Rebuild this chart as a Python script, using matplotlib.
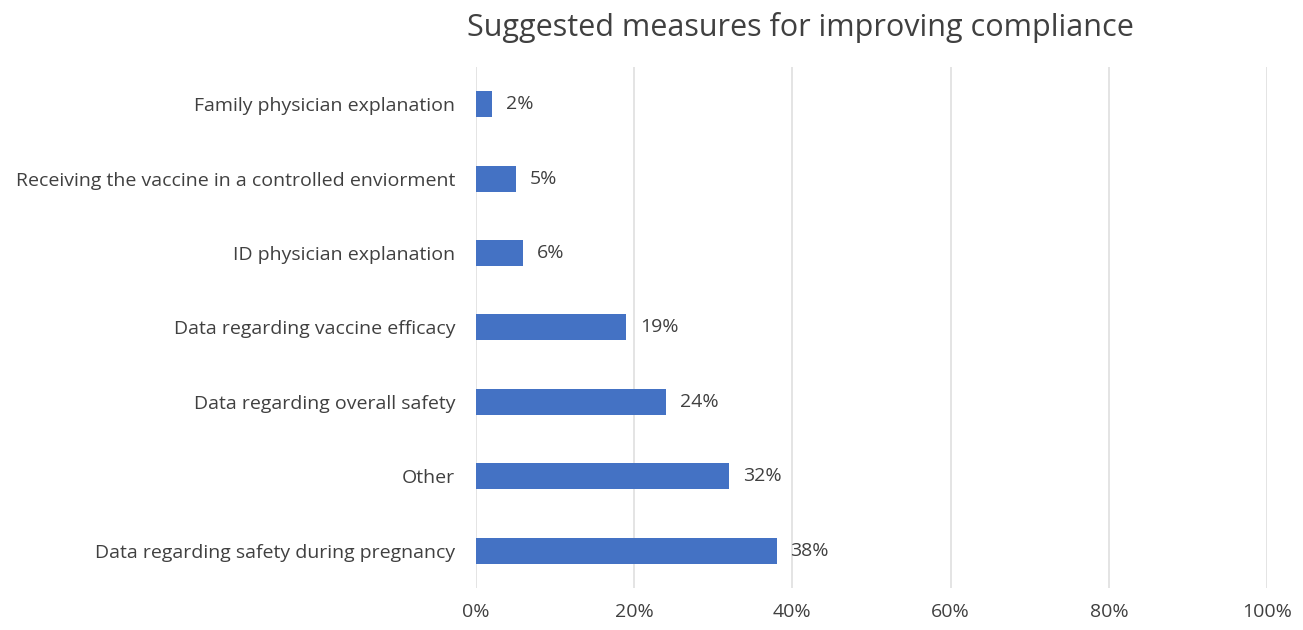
import matplotlib
matplotlib.use("Agg")
import matplotlib.pyplot as plt
from matplotlib.ticker import PercentFormatter

# data, bottom to top
measures = [
    "Data regarding safety during pregnancy",
    "Other",
    "Data regarding overall safety",
    "Data regarding vaccine efficacy",
    "ID physician explanation",
    "Receiving the vaccine in a controlled enviorment",
    "Family physician explanation",
]
percent = [38, 32, 24, 19, 6, 5, 2]
xticks = [0, 20, 40, 60, 80, 100]

plt.rcParams['font.family'] = ['Open Sans', 'DejaVu Sans']
text_col = '#404040'

fig = plt.figure(figsize=(13.03, 6.30), dpi=100)
ax = fig.add_axes([0.3653, 0.0667, 0.6071, 0.827])

ypos = range(len(measures))
ax.barh(ypos, percent, height=0.35, color='#4472C4', zorder=3)
for y, v in zip(ypos, percent):
    ax.annotate(f"{v}%", (v, y), xytext=(10, 0), textcoords='offset points',
                va='center', ha='left', fontsize=14, color=text_col)

ax.set_xlim(0, 100)
ax.set_ylim(-0.5, len(measures) - 0.5)
ax.set_xticks(xticks)
ax.xaxis.set_major_formatter(PercentFormatter(decimals=0))
ax.set_yticks(list(ypos))
ax.set_yticklabels(measures)
ax.tick_params(axis='both', length=0, labelsize=14, labelcolor=text_col)
ax.tick_params(axis='y', pad=15)
ax.tick_params(axis='x', pad=11)
ax.grid(axis='x', color='#dcdcdc', linewidth=1.1, zorder=0)
for s in ax.spines.values():
    s.set_visible(False)

fig.text(0.614, 0.957, "Suggested measures for improving compliance",
         ha='center', va='center', fontsize=22, color=text_col)

fig.savefig("out.png", dpi=100)
